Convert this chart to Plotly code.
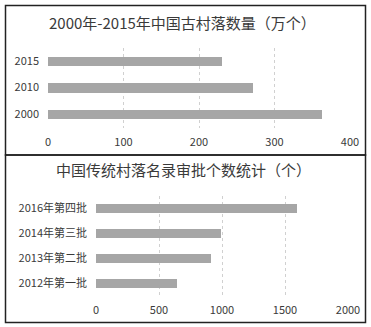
import plotly.graph_objects as go

# Ancient villages in China (10k units)
village_years = ["2000", "2010", "2015"]
village_counts = [363, 271, 230]
village_ticks = [0, 100, 200, 300, 400]

# Traditional villages approved per batch
batch_names = ["2012年第一批", "2013年第二批", "2014年第三批", "2016年第四批"]
batch_counts = [646, 915, 994, 1598]
batch_ticks = [0, 500, 1000, 1500, 2000]

W, H = 371, 327
FONT = "Noto Sans CJK SC"
TXT = "#3a3a3a"
BAR = "#a6a6a6"


def px_x(v):
    return v / W


def px_y(v):
    return 1 - v / H


bar_style = dict(color=BAR, line=dict(width=0))

fig = go.Figure()
fig.add_trace(go.Bar(
    x=village_counts, y=village_years, orientation="h",
    xaxis="x", yaxis="y", width=0.34, marker=bar_style, showlegend=False,
))
fig.add_trace(go.Bar(
    x=batch_counts, y=batch_names, orientation="h",
    xaxis="x2", yaxis="y2", width=0.36, marker=bar_style, showlegend=False,
))

axis_font = dict(family=FONT, size=11, color=TXT)
grid = dict(showgrid=True, gridcolor="#d0d0d0", griddash="dot", gridwidth=1,
            zeroline=False, showline=False, ticks="", tickfont=axis_font,
            fixedrange=True, automargin=False)
cat = dict(type="category", categoryorder="array", showgrid=False, zeroline=False,
           showline=False, ticks="", tickfont=axis_font, ticklabelstandoff=8,
           fixedrange=True, automargin=False)

fig.update_layout(
    width=W, height=H,
    margin=dict(l=0, r=0, t=0, b=0, autoexpand=False),
    paper_bgcolor="white", plot_bgcolor="white",
    bargap=0,
    xaxis=dict(domain=[px_x(48), px_x(350)], range=[0, 400], tickvals=village_ticks,
               anchor="y", ticklabelstandoff=6, **grid),
    yaxis=dict(domain=[px_y(127.5), px_y(47.5)], categoryarray=village_years,
               range=[-0.5, 2.5], anchor="x", **cat),
    xaxis2=dict(domain=[px_x(96), px_x(348)], range=[0, 2000], tickvals=batch_ticks,
                anchor="y2", ticklabelstandoff=6, **grid),
    yaxis2=dict(domain=[px_y(296), px_y(196)], categoryarray=batch_names,
                range=[-0.5, 3.5], anchor="x2", **cat),
    shapes=[
        dict(type="rect", xref="paper", yref="paper",
             x0=px_x(5.5), x1=px_x(365.5), y0=px_y(155), y1=px_y(5.5),
             line=dict(color="#222222", width=1.5)),
        dict(type="rect", xref="paper", yref="paper",
             x0=px_x(5.5), x1=px_x(365.5), y0=px_y(322.5), y1=px_y(155),
             line=dict(color="#222222", width=1.5)),
    ],
    annotations=[
        dict(text="2000年-2015年中国古村落数量（万个）", xref="paper", yref="paper",
             x=px_x(182), y=px_y(23), xanchor="center", yanchor="middle",
             showarrow=False, font=dict(family=FONT, size=15, color=TXT)),
        dict(text="中国传统村落名录审批个数统计（个）", xref="paper", yref="paper",
             x=px_x(183), y=px_y(170), xanchor="center", yanchor="middle",
             showarrow=False, font=dict(family=FONT, size=15, color=TXT)),
    ],
)

fig.write_html("out.html")
